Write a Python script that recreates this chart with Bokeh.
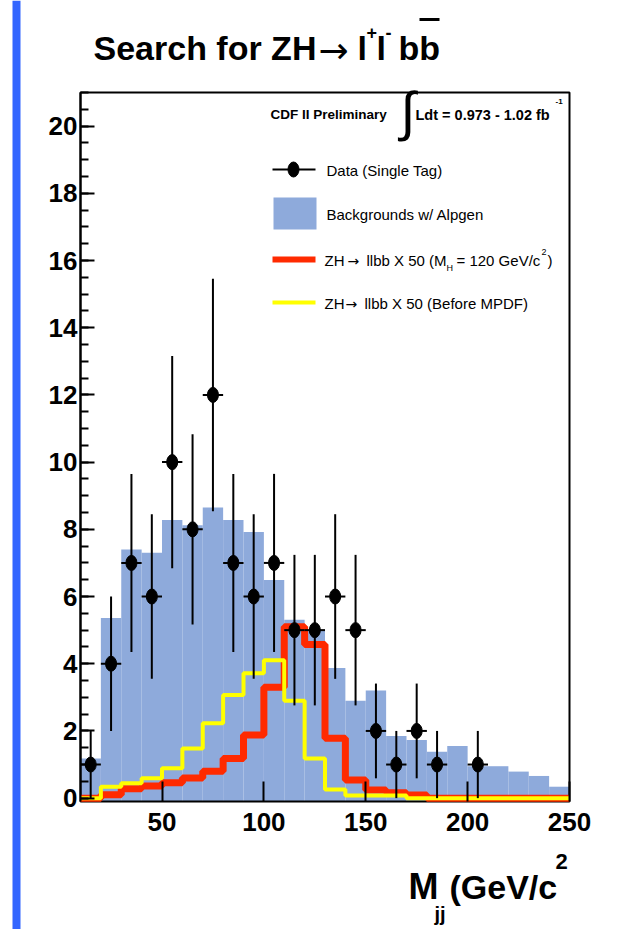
from bokeh.plotting import figure
from bokeh.models import Range1d, FixedTicker, Label
from bokeh.embed import file_html
from bokeh.resources import INLINE

# ---------------- data ----------------
bin_edges = [10, 20, 30, 40, 50, 60, 70, 80, 90, 100, 110, 120, 130, 140, 150,
             160, 170, 180, 190, 200, 210, 220, 230, 240, 250]
backgrounds = [1.18, 5.36, 7.40, 7.30, 8.28, 8.12, 8.65, 8.28, 7.92, 6.49, 5.31, 5.00,
               3.87, 2.90, 3.20, 1.85, 1.73, 1.38, 1.55, 0.95, 0.95, 0.79, 0.66, 0.34]
zh_mh120 = [0.0, 0.10, 0.28, 0.36, 0.46, 0.60, 0.80, 1.18, 1.88, 3.30, 5.10, 4.57,
            1.78, 0.54, 0.24, 0.16, 0.09, 0.0, 0.0, 0.0, 0.0, 0.0, 0.0, 0.0]
zh_before_mpdf = [0.0, 0.34, 0.44, 0.59, 0.89, 1.48, 2.23, 3.07, 3.72, 4.10, 2.90, 1.18,
                  0.26, 0.08, 0.08, 0.08, 0.0, 0.0, 0.0, 0.0, 0.0, 0.0, 0.0, 0.0]
data_x = [15, 25, 35, 45, 55, 65, 75, 85, 95, 105, 115, 125, 135, 145, 155, 165, 175, 185, 205]
data_y = [1, 4, 7, 6, 10, 8, 12, 7, 6, 7, 5, 5, 6, 5, 2, 1, 2, 1, 1]
data_err = [1.0, 2.0, 2.65, 2.45, 3.16, 2.83, 3.46, 2.65, 2.45, 2.65, 2.24, 2.24,
            2.45, 2.24, 1.41, 1.0, 1.41, 1.0, 1.0]
bin_half_width = 5
x_major_ticks = [50, 100, 150, 200, 250]
y_major_ticks = [0, 2, 4, 6, 8, 10, 12, 14, 16, 18, 20]
y_minor_ticks = [i * 0.5 for i in range(0, 43)]

# ---------------- layout ----------------
W, H = 625, 929
PX_L, PX_R, PX_T, PX_B = 80, 569, 92, 801      # plot box inside the page
X0, X1 = 10, 250
Y0, Y1 = -0.1, 21

FONT = "Liberation Sans"
ARROW_FONT = "DejaVu Sans"
BKG_COLOR = "#8eaadb"
RED = "#ff2a00"
YELLOW = "#ffff00"


def dx(px):
    return X0 + (px - PX_L) * (X1 - X0) / (PX_R - PX_L)


def dy(py):
    return Y0 + (PX_B - py) * (Y1 - Y0) / (PX_B - PX_T)


p = figure(width=W, height=H, output_backend="svg", toolbar_location=None,
           x_range=Range1d(dx(0), dx(W)), y_range=Range1d(dy(H), dy(0)),
           min_border=0)
p.background_fill_color = "white"
p.border_fill_color = "white"
p.outline_line_color = None
p.xgrid.visible = False
p.ygrid.visible = False

# axes drawn at the edges of the plot box
p.xaxis.fixed_location = Y0
p.yaxis.fixed_location = X0
p.xaxis.bounds = (X0, X1)
p.yaxis.bounds = (Y0, Y1)
p.xaxis.ticker = FixedTicker(ticks=x_major_ticks)
p.yaxis.ticker = FixedTicker(ticks=y_major_ticks, minor_ticks=y_minor_ticks)
for ax in (p.xaxis, p.yaxis):
    ax.axis_line_color = "black"
    ax.axis_line_width = 2
    ax.major_tick_line_color = "black"
    ax.minor_tick_line_color = "black"
    ax.major_tick_line_width = 2
    ax.minor_tick_line_width = 2
    ax.major_tick_out = 0
    ax.minor_tick_out = 0
    ax.major_label_text_font = FONT
    ax.major_label_text_font_style = "bold"
    ax.major_label_text_font_size = "26px"
    ax.major_label_text_color = "black"
p.xaxis.axis_line_color = None
p.xaxis.major_tick_in = 20
p.xaxis.minor_tick_line_color = None
p.yaxis.major_tick_in = 14
p.yaxis.minor_tick_in = 8
p.xaxis.major_label_standoff = 11
p.yaxis.major_label_standoff = 3

# blue strip at the left edge of the page
p.quad(left=[dx(12)], right=[dx(20)], bottom=[dy(H)], top=[dy(0)],
       fill_color="#3366ff", line_color=None)

# backgrounds histogram
p.quad(left=bin_edges[:-1], right=bin_edges[1:], bottom=Y0, top=backgrounds,
       fill_color=BKG_COLOR, line_color=None)

# plot box outline
p.quad(left=[X0], right=[X1], bottom=[Y0], top=[Y1], fill_color=None,
       line_color="black", line_width=2)

# signal step histograms
p.step(x=bin_edges, y=zh_mh120 + [zh_mh120[-1]], mode="after",
       line_color=RED, line_width=7)
p.step(x=bin_edges, y=zh_before_mpdf + [zh_before_mpdf[-1]], mode="after",
       line_color=YELLOW, line_width=4)

# data with errors
lo = [y - e for y, e in zip(data_y, data_err)]
hi = [y + e for y, e in zip(data_y, data_err)]
p.segment(x0=data_x, y0=lo, x1=data_x, y1=hi, line_color="black", line_width=2)
p.segment(x0=[x - bin_half_width for x in data_x], y0=data_y,
          x1=[x + bin_half_width for x in data_x], y1=data_y,
          line_color="black", line_width=2)
p.ellipse(x=data_x, y=data_y, width=11, height=15, width_units="screen",
          height_units="screen", fill_color="black", line_color="black")

# ---------------- legend (drawn by hand) ----------------
lg_x0, lg_x1 = 272, 315
p.segment(x0=[dx(lg_x0)], y0=[dy(169)], x1=[dx(lg_x1)], y1=[dy(169)],
          line_color="black", line_width=2)
p.ellipse(x=[dx(293)], y=[dy(169)], width=11, height=15, width_units="screen",
          height_units="screen", fill_color="black", line_color="black")
p.quad(left=[dx(273)], right=[dx(316)], bottom=[dy(229)], top=[dy(197)],
       fill_color=BKG_COLOR, line_color=None)
p.segment(x0=[dx(lg_x0)], y0=[dy(259)], x1=[dx(lg_x1)], y1=[dy(259)],
          line_color=RED, line_width=6)
p.segment(x0=[dx(lg_x0)], y0=[dy(302)], x1=[dx(lg_x1)], y1=[dy(302)],
          line_color=YELLOW, line_width=4)


def lab(text, px, py, size, bold=False, font=FONT):
    p.add_layout(Label(x=dx(px), y=dy(py), text=text, text_font=font,
                       text_font_size=f"{size}px",
                       text_font_style="bold" if bold else "normal",
                       text_baseline="middle", text_align="left",
                       text_color="black"))


lab("Data (Single Tag)", 326, 170, 15)
lab("Backgrounds w/ Alpgen", 326, 214, 15)
lab("ZH", 324, 260, 15)
lab("\u2192", 347, 260, 14, font=ARROW_FONT)
lab("llbb X 50 (M", 366, 260, 15)
lab("H", 446, 267, 9)
lab("= 120 GeV/c", 456, 260, 15)
lab("2", 541, 251, 9)
lab(")", 547, 260, 15)
lab("ZH", 324, 303, 15)
lab("\u2192", 345, 303, 14, font=ARROW_FONT)
lab("llbb X 50 (Before MPDF)", 364, 303, 15)

lab("CDF II Preliminary", 270, 114, 13.5, bold=True)
lab("\u222b", 400, 110, 54)
lab("Ldt = 0.973 - 1.02 fb", 415, 114, 14.5, bold=True)
lab("-1", 555, 101, 8, bold=True)

# title
lab("Search for ZH", 93, 47, 34, bold=True)
lab("\u2192", 318, 50, 36, font=ARROW_FONT)
lab("l", 357, 47, 34, bold=True)
lab("+", 366, 32, 18, bold=True)
lab("l", 376, 47, 34, bold=True)
lab("-", 385, 32, 18, bold=True)
lab("bb", 398, 47, 34, bold=True)
p.segment(x0=[dx(419)], y0=[dy(19)], x1=[dx(439)], y1=[dy(19)],
          line_color="black", line_width=3)

# x axis title
lab("M", 408, 886, 36, bold=True)
lab("jj", 434, 913, 20, bold=True)
lab("(GeV/c", 449, 886, 34, bold=True)
lab("2", 555, 861, 22, bold=True)

open("out.html", "w").write(file_html(p, INLINE))
